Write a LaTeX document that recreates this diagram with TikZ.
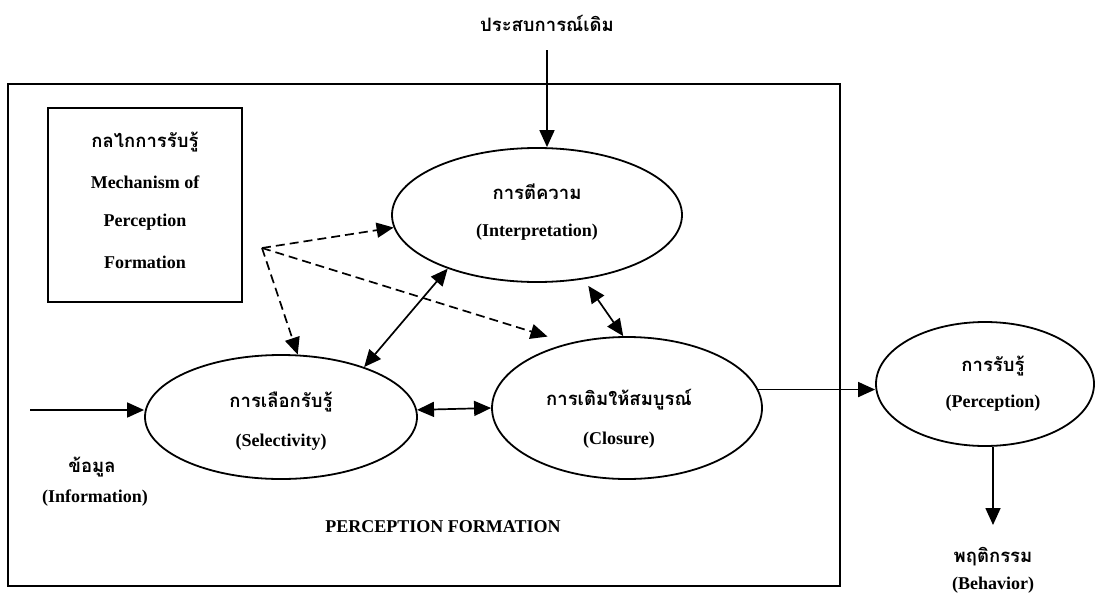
\documentclass[tikz,border=0pt]{standalone}
\usepackage{fontspec}
\setmainfont{Liberation Serif}
\newfontfamily\thaifont[Script=Thai]{Loma}
\usetikzlibrary{arrows.meta,shapes.geometric}
\tikzset{
  ell/.style={draw, ellipse, line width=1.8pt, inner sep=0pt},
  th/.style={font=\thaifont\bfseries\fontsize{18.5}{22}\selectfont, inner sep=0pt},
  en/.style={font=\bfseries\fontsize{18}{22}\selectfont, inner sep=0pt},
  arr/.style={line width=1.7pt, -{Triangle[length=17pt,width=15pt]}},
  darr/.style={line width=1.7pt, {Triangle[length=17pt,width=15pt]}-{Triangle[length=17pt,width=15pt]}},
  dsh/.style={line width=1.7pt, dash pattern=on 9pt off 5pt, -{Triangle[length=17pt,width=15pt]}},
}
\begin{document}
\begin{tikzpicture}[x=1pt,y=-1pt]
\useasboundingbox (0,0) rectangle (1099,597);
% frames
\draw[line width=1.7pt] (8,84) rectangle (840,586);
\node[draw, line width=1.6pt, minimum width=194pt, minimum height=194pt, inner sep=0pt] (mechbox) at (145,205) {};
\node[th] (mech1) at (145,142) {กลไกการรับรู้};
\node[en] (mech2) at (145,182) {Mechanism of};
\node[en] (mech3) at (145,222) {Perception};
\node[en] (mech4) at (145,262) {Formation};
% ellipses
\node[ell, minimum width=290pt, minimum height=134pt] (interp) at (537,215) {};
\node[ell, minimum width=272pt, minimum height=124pt] (sel) at (281,417) {};
\node[ell, minimum width=270pt, minimum height=142pt] (clo) at (627,408) {};
\node[ell, minimum width=218pt, minimum height=124pt] (perc) at (985,384) {};
% texts in ellipses
\node[th] (interpT) at (537,192) {การตีความ};
\node[en] (interpE) at (537,232) {(Interpretation)};
\node[th] (selT) at (281,402) {การเลือกรับรู้};
\node[en] (selE) at (281,442) {(Selectivity)};
\node[th] (cloT) at (619,400) {การเติมให้สมบูรณ์};
\node[en] (cloE) at (619,440) {(Closure)};
\node[th] (percT) at (993,366) {การรับรู้};
\node[en] (percE) at (993,403) {(Perception)};
% outside texts
\node[th] (title) at (547,23) {ประสบการณ์เดิม};
\node[th] (infoT) at (92,467) {ข้อมูล};
\node[en] (infoE) at (95,498) {(Information)};
\node[en] (pf) at (443,527) {PERCEPTION FORMATION};
\node[th] (behT) at (993,557) {พฤติกรรม};
\node[en] (behE) at (993,585) {(Behavior)};
% coordinates
\coordinate (tstart) at (547,50);
\coordinate (infostart) at (30,410);
\coordinate (behtip) at (993,525);
\coordinate (dsrc) at (262,248);
% connectors
\draw[arr] (tstart) -- (tstart |- interp.north);
\draw[arr] (infostart) -- (infostart -| sel.west);
\draw[darr] (sel.3.4) -- (clo.180.5);
\draw[arr] (clo.8.3) -- (clo.8.3 -| perc.west);
\draw[arr] (perc.south -| behtip) -- (behtip);
\draw[darr] (sel.31) -- (interp.211);
\draw[darr, shorten <=8pt] (interp.-54.7) -- (clo.93);
\draw[dsh] (dsrc) -- (interp.185);
\draw[dsh] (dsrc) -- (sel.75);
\draw[dsh, shorten >=22pt] (dsrc) -- (clo.132.2);
\end{tikzpicture}
\end{document}
